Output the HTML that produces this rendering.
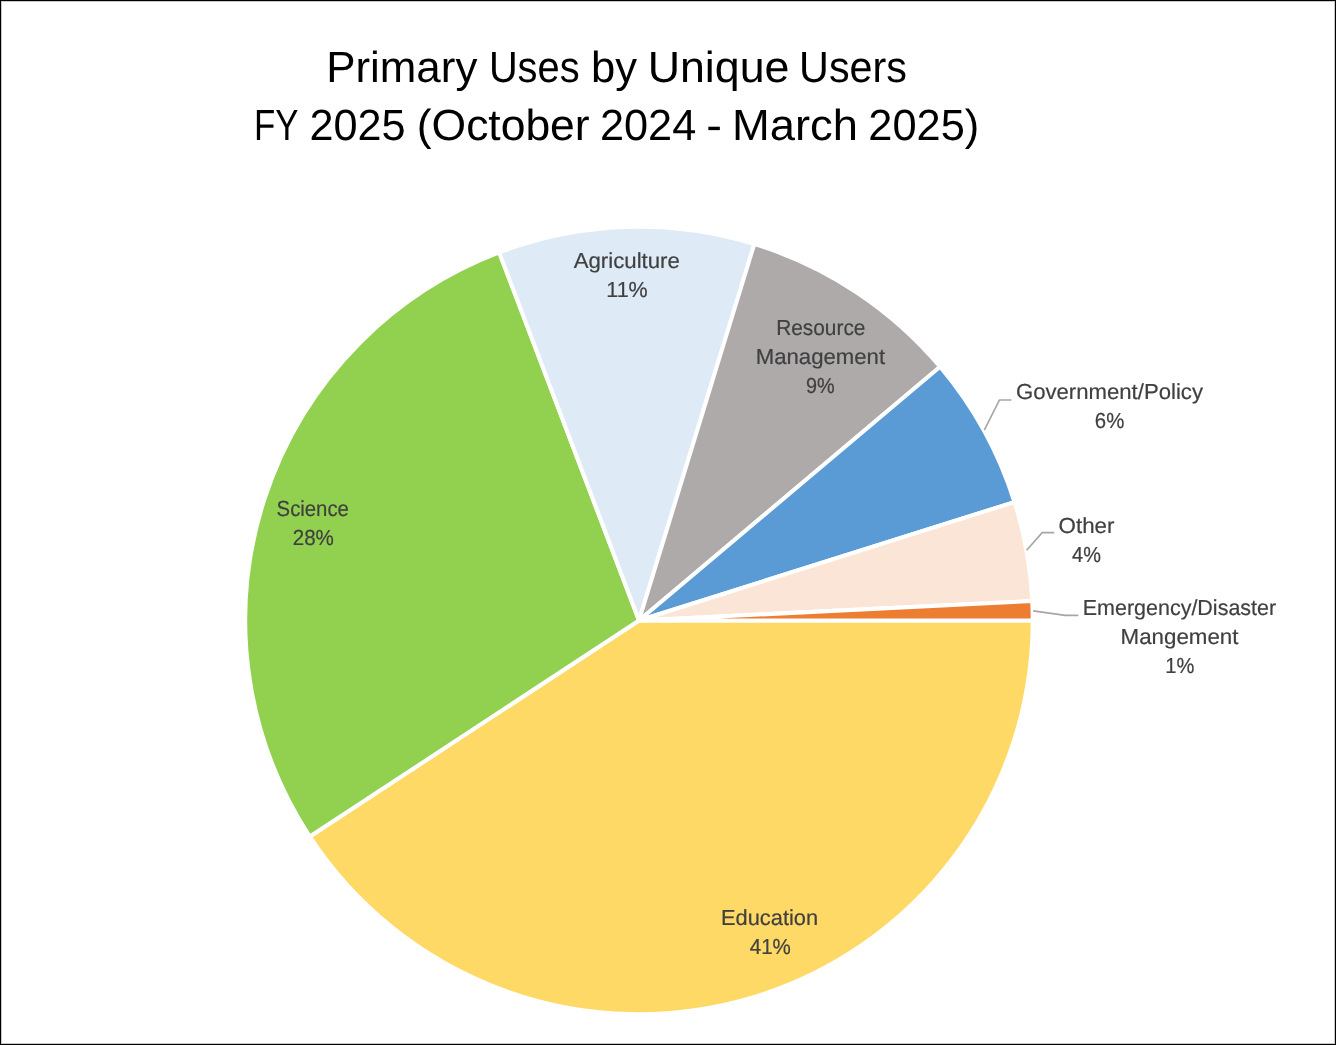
<!DOCTYPE html>
<html><head><meta charset="utf-8"><style>
html,body{margin:0;padding:0;background:#fff;}
body{width:1336px;height:1045px;overflow:hidden;}
svg{display:block;will-change:transform;}
text{font-family:"Liberation Sans", sans-serif;}
</style></head><body>
<svg width="1336" height="1045" viewBox="0 0 1336 1045">
<rect x="0" y="0" width="1336" height="1045" fill="#FFFFFF"/>
<path d="M639.00,620.50 L1032.70,620.50 A393.7,393.7 0 0 1 309.87,836.54 Z" fill="#FFD966" stroke="#FFFFFF" stroke-width="4.0" stroke-linejoin="round"/><path d="M639.00,620.50 L309.87,836.54 A393.7,393.7 0 0 1 499.19,252.46 Z" fill="#92D050" stroke="#FFFFFF" stroke-width="4.0" stroke-linejoin="round"/><path d="M639.00,620.50 L499.19,252.46 A393.7,393.7 0 0 1 754.30,244.06 Z" fill="#DEEBF7" stroke="#FFFFFF" stroke-width="4.0" stroke-linejoin="round"/><path d="M639.00,620.50 L754.30,244.06 A393.7,393.7 0 0 1 940.06,366.80 Z" fill="#AEAAAA" stroke="#FFFFFF" stroke-width="4.0" stroke-linejoin="round"/><path d="M639.00,620.50 L940.06,366.80 A393.7,393.7 0 0 1 1014.46,502.05 Z" fill="#5B9BD5" stroke="#FFFFFF" stroke-width="4.0" stroke-linejoin="round"/><path d="M639.00,620.50 L1014.46,502.05 A393.7,393.7 0 0 1 1032.21,600.92 Z" fill="#FBE5D6" stroke="#FFFFFF" stroke-width="4.0" stroke-linejoin="round"/><path d="M639.00,620.50 L1032.21,600.92 A393.7,393.7 0 0 1 1032.70,620.50 Z" fill="#ED7D31" stroke="#FFFFFF" stroke-width="4.0" stroke-linejoin="round"/>
<polyline points="984.30,430.20 999.40,400.05 1011.40,400.05" fill="none" stroke="#A6A6A6" stroke-width="1.6"/><polyline points="1026.60,550.30 1042.20,532.60 1054.20,532.60" fill="none" stroke="#A6A6A6" stroke-width="1.6"/><polyline points="1033.20,610.90 1065.30,615.40 1078.30,615.40" fill="none" stroke="#A6A6A6" stroke-width="1.6"/>
<text x="326.16" y="82.30" font-size="43.60" fill="#000000" stroke="#000000" stroke-width="0" textLength="151.17" lengthAdjust="spacingAndGlyphs" text-rendering="geometricPrecision">Primary</text><text x="488.88" y="82.30" font-size="43.60" fill="#000000" stroke="#000000" stroke-width="0" textLength="90.70" lengthAdjust="spacingAndGlyphs" text-rendering="geometricPrecision">Uses</text><text x="591.11" y="82.30" font-size="43.60" fill="#000000" stroke="#000000" stroke-width="0" textLength="45.98" lengthAdjust="spacingAndGlyphs" text-rendering="geometricPrecision">by</text><text x="647.66" y="82.30" font-size="43.60" fill="#000000" stroke="#000000" stroke-width="0" textLength="141.75" lengthAdjust="spacingAndGlyphs" text-rendering="geometricPrecision">Unique</text><text x="799.11" y="82.30" font-size="43.60" fill="#000000" stroke="#000000" stroke-width="0" textLength="107.81" lengthAdjust="spacingAndGlyphs" text-rendering="geometricPrecision">Users</text><text x="254.09" y="140.10" font-size="43.60" fill="#000000" stroke="#000000" stroke-width="0" textLength="44.52" lengthAdjust="spacingAndGlyphs" text-rendering="geometricPrecision">FY</text><text x="309.48" y="140.10" font-size="43.60" fill="#000000" stroke="#000000" stroke-width="0" textLength="96.10" lengthAdjust="spacingAndGlyphs" text-rendering="geometricPrecision">2025</text><text x="416.77" y="140.10" font-size="43.60" fill="#000000" stroke="#000000" stroke-width="0" textLength="172.88" lengthAdjust="spacingAndGlyphs" text-rendering="geometricPrecision">(October</text><text x="599.91" y="140.10" font-size="43.60" fill="#000000" stroke="#000000" stroke-width="0" textLength="96.33" lengthAdjust="spacingAndGlyphs" text-rendering="geometricPrecision">2024</text><text x="706.21" y="140.10" font-size="43.60" fill="#000000" stroke="#000000" stroke-width="0" textLength="15.74" lengthAdjust="spacingAndGlyphs" text-rendering="geometricPrecision">-</text><text x="732.03" y="140.10" font-size="43.60" fill="#000000" stroke="#000000" stroke-width="0" textLength="125.93" lengthAdjust="spacingAndGlyphs" text-rendering="geometricPrecision">March</text><text x="868.31" y="140.10" font-size="43.60" fill="#000000" stroke="#000000" stroke-width="0" textLength="110.93" lengthAdjust="spacingAndGlyphs" text-rendering="geometricPrecision">2025)</text><text x="573.70" y="267.60" font-size="21.80" fill="#404040" stroke="#404040" stroke-width="0.2" textLength="106.15" lengthAdjust="spacingAndGlyphs" text-rendering="geometricPrecision">Agriculture</text><text x="606.31" y="296.90" font-size="21.80" fill="#404040" stroke="#404040" stroke-width="0.2" textLength="41.43" lengthAdjust="spacingAndGlyphs" text-rendering="geometricPrecision">11%</text><text x="776.22" y="334.90" font-size="21.80" fill="#404040" stroke="#404040" stroke-width="0.2" textLength="89.19" lengthAdjust="spacingAndGlyphs" text-rendering="geometricPrecision">Resource</text><text x="755.74" y="364.30" font-size="21.80" fill="#404040" stroke="#404040" stroke-width="0.2" textLength="129.33" lengthAdjust="spacingAndGlyphs" text-rendering="geometricPrecision">Management</text><text x="805.96" y="392.70" font-size="21.80" fill="#404040" stroke="#404040" stroke-width="0.2" textLength="28.64" lengthAdjust="spacingAndGlyphs" text-rendering="geometricPrecision">9%</text><text x="1015.91" y="399.05" font-size="21.80" fill="#404040" stroke="#404040" stroke-width="0.2" textLength="187.06" lengthAdjust="spacingAndGlyphs" text-rendering="geometricPrecision">Government/Policy</text><text x="1094.80" y="428.30" font-size="21.80" fill="#404040" stroke="#404040" stroke-width="0.2" textLength="29.46" lengthAdjust="spacingAndGlyphs" text-rendering="geometricPrecision">6%</text><text x="1058.59" y="532.80" font-size="21.80" fill="#404040" stroke="#404040" stroke-width="0.2" textLength="55.86" lengthAdjust="spacingAndGlyphs" text-rendering="geometricPrecision">Other</text><text x="1072.10" y="561.80" font-size="21.80" fill="#404040" stroke="#404040" stroke-width="0.2" textLength="28.81" lengthAdjust="spacingAndGlyphs" text-rendering="geometricPrecision">4%</text><text x="1082.79" y="615.20" font-size="21.80" fill="#404040" stroke="#404040" stroke-width="0.2" textLength="193.36" lengthAdjust="spacingAndGlyphs" text-rendering="geometricPrecision">Emergency/Disaster</text><text x="1120.55" y="644.30" font-size="21.80" fill="#404040" stroke="#404040" stroke-width="0.2" textLength="117.88" lengthAdjust="spacingAndGlyphs" text-rendering="geometricPrecision">Mangement</text><text x="1165.35" y="673.10" font-size="21.80" fill="#404040" stroke="#404040" stroke-width="0.2" textLength="29.02" lengthAdjust="spacingAndGlyphs" text-rendering="geometricPrecision">1%</text><text x="276.57" y="515.50" font-size="21.80" fill="#404040" stroke="#404040" stroke-width="0.2" textLength="72.34" lengthAdjust="spacingAndGlyphs" text-rendering="geometricPrecision">Science</text><text x="292.74" y="545.00" font-size="21.80" fill="#404040" stroke="#404040" stroke-width="0.2" textLength="41.18" lengthAdjust="spacingAndGlyphs" text-rendering="geometricPrecision">28%</text><text x="721.04" y="924.70" font-size="21.80" fill="#404040" stroke="#404040" stroke-width="0.2" textLength="97.03" lengthAdjust="spacingAndGlyphs" text-rendering="geometricPrecision">Education</text><text x="749.77" y="954.00" font-size="21.80" fill="#404040" stroke="#404040" stroke-width="0.2" textLength="41.12" lengthAdjust="spacingAndGlyphs" text-rendering="geometricPrecision">41%</text>
<rect x="1.5" y="1.5" width="1333" height="1042" fill="none" stroke="#C8C8C8" stroke-width="1"/>
<rect x="0.5" y="0.5" width="1335" height="1044" fill="none" stroke="#000000" stroke-width="1"/>
</svg>
</body></html>
